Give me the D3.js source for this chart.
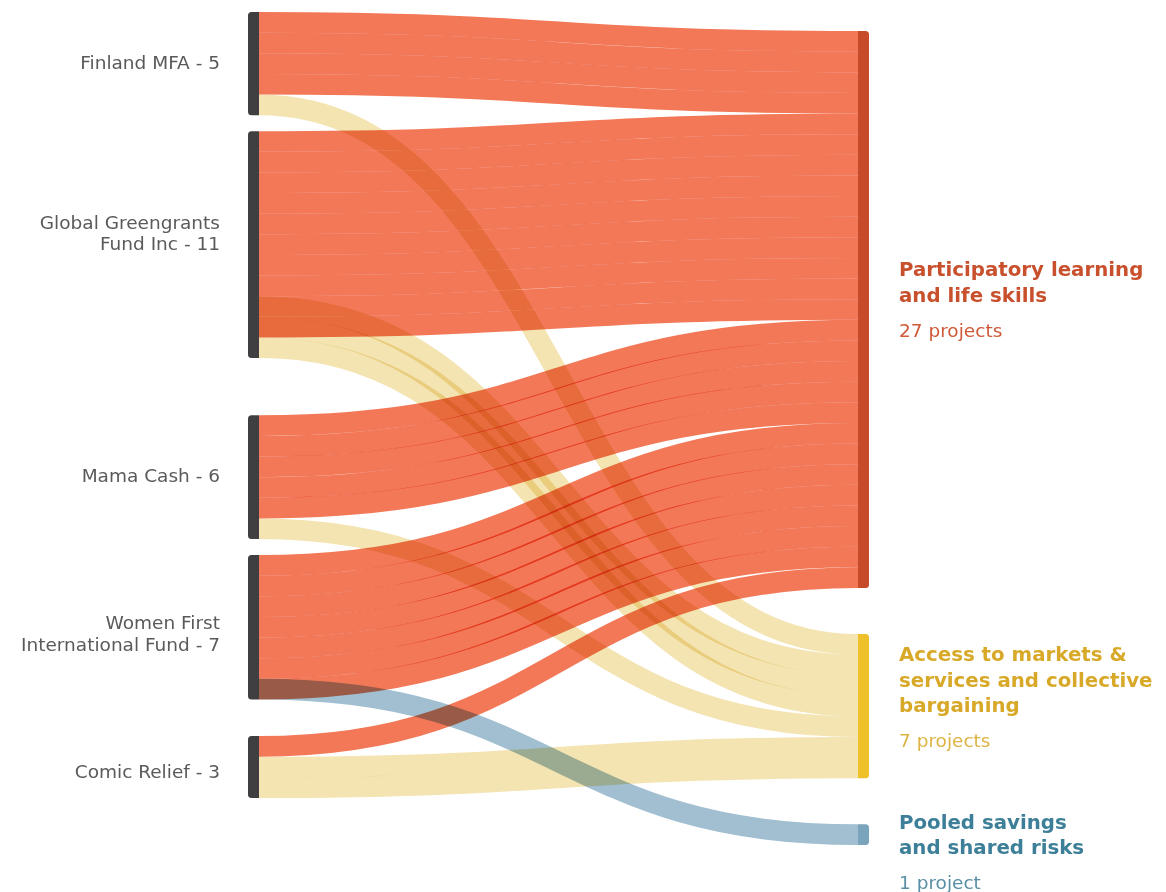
<!DOCTYPE html>
<html>
<head>
<meta charset="utf-8">
<script src="https://cdn.jsdelivr.net/npm/d3@7/dist/d3.min.js"></script>
<style>
  html, body { margin: 0; padding: 0; background: #fff; }
  svg { display: block; }
  .links { isolation: isolate; }
  .links path { mix-blend-mode: multiply; fill: none; }
</style>
</head>
<body>
<svg id="chart" width="1166" height="892"></svg>
<script>
// ---------------- DATA ----------------
const funders = ["Finland MFA", "Global Greengrants Fund Inc", "Mama Cash", "Women First International Fund", "Comic Relief"];
const funderProjects = [5, 11, 6, 7, 3];
const funderLabelLines = [
  ["Finland MFA - 5"],
  ["Global Greengrants", "Fund Inc - 11"],
  ["Mama Cash - 6"],
  ["Women First", "International Fund - 7"],
  ["Comic Relief - 3"]
];

const themes = ["Participatory learning and life skills", "Access to markets & services and collective bargaining", "Pooled savings and shared risks"];
const themeProjects = [27, 7, 1];
const themeTitleLines = [
  ["Participatory learning", "and life skills"],
  ["Access to markets &", "services and collective", "bargaining"],
  ["Pooled savings", "and shared risks"]
];
const themeCountLabels = ["27 projects", "7 projects", "1 project"];

// projects per funder going to each theme (same order as funders)
const participatoryFlows = [4, 10, 5, 7, 1];
const accessFlows        = [1, 3, 1, 0, 2];
const pooledFlows        = [0, 0, 0, 1, 0];

// ---------------- STYLE / LAYOUT ----------------
const themeLinkColors  = ["#f27857", "#f4e4b2", "#a1bfd0"];
const themeNodeColors  = ["#c84b29", "#eec02a", "#7aa4bc"];
const themeTitleColors = ["#c8502c", "#d8a928", "#3d7f98"];
const themeCountColors = ["#cf5a38", "#ddb444", "#5b8fa6"];
const funderNodeColor = "#3f3f41";
const funderLabelColor = "#5a5a5a";

const leftX0 = 248, nodeW = 11, rightX0 = 858;
const leftTop = 12, leftBottom = 798, leftPad = 16;
const rightTop = 31, rightPad = 46;
const funderLabelNudge = [-1, -12, -2, 6, 4];
const themeLabelNudge = [-10, -9, 17];

const flowsByTheme = [participatoryFlows, accessFlows, pooledFlows];

// slot size on left = total links out of each funder
const funderSlots = funders.map((f, i) => d3.sum(flowsByTheme, fl => fl[i]));
const totalUnits = d3.sum(funderSlots);
const k = (leftBottom - leftTop - leftPad * (funders.length - 1)) / totalUnits;
const u = d3.scaleLinear().domain([0, 1]).range([0, k]);

// funder nodes
let cy = leftTop;
const funderNodes = funders.map((name, i) => {
  const n = { name, i, y0: cy, y1: cy + u(funderProjects[i]) };
  cy += u(funderSlots[i]) + leftPad;
  return n;
});
// theme nodes
cy = rightTop;
const themeNodes = themes.map((name, j) => {
  const n = { name, j, y0: cy, y1: cy + u(themeProjects[j]) };
  cy = n.y1 + rightPad;
  return n;
});

// source offsets: first theme from top, others stacked from bottom
const srcOffset = {}; // key i-j -> units
funders.forEach((f, i) => {
  const used = flowsByTheme.map((fl, j) => ({ j, v: fl[i] })).filter(d => d.v > 0);
  if (!used.length) return;
  srcOffset[i + "-" + used[0].j] = 0;
  let bottom = funderProjects[i];
  for (let m = used.length - 1; m >= 1; m--) {
    bottom -= used[m].v;
    srcOffset[i + "-" + used[m].j] = bottom;
  }
});
// target offsets: stacked in funder order
const tgtOffset = {};
themes.forEach((t, j) => {
  let acc = 0;
  funders.forEach((f, i) => {
    if (flowsByTheme[j][i] > 0) { tgtOffset[i + "-" + j] = acc; acc += flowsByTheme[j][i]; }
  });
});

// one link per project
const unitLinks = [];
themes.forEach((t, j) => {
  funders.forEach((f, i) => {
    const v = flowsByTheme[j][i];
    for (let q = 0; q < v; q++) {
      unitLinks.push({
        j,
        source: [leftX0 + nodeW, funderNodes[i].y0 + u(srcOffset[i + "-" + j] + q + 0.5)],
        target: [rightX0, themeNodes[j].y0 + u(tgtOffset[i + "-" + j] + q + 0.5)]
      });
    }
  });
});

const svg = d3.select("#chart");
const linkGen = d3.linkHorizontal().x(d => d[0]).y(d => d[1]);

svg.append("g").attr("class", "links")
  .selectAll("path").data(unitLinks).join("path")
  .attr("d", d => linkGen(d))
  .attr("stroke", d => themeLinkColors[d.j])
  .attr("stroke-width", k);

function roundedSide(x, y0, w, h, r, side) {
  // rounded corners on one side only
  if (side === "left") {
    return `M${x + w},${y0} L${x + r},${y0} Q${x},${y0} ${x},${y0 + r} L${x},${y0 + h - r} Q${x},${y0 + h} ${x + r},${y0 + h} L${x + w},${y0 + h} Z`;
  }
  return `M${x},${y0} L${x + w - r},${y0} Q${x + w},${y0} ${x + w},${y0 + r} L${x + w},${y0 + h - r} Q${x + w},${y0 + h} ${x + w - r},${y0 + h} L${x},${y0 + h} Z`;
}

svg.append("g").selectAll("path").data(funderNodes).join("path")
  .attr("d", d => roundedSide(leftX0, d.y0, nodeW, d.y1 - d.y0, 3.5, "left"))
  .attr("fill", funderNodeColor);

svg.append("g").selectAll("path").data(themeNodes).join("path")
  .attr("d", d => roundedSide(rightX0, d.y0, nodeW, d.y1 - d.y0, 3.5, "right"))
  .attr("fill", d => themeNodeColors[d.j]);

// funder labels
const fontFam = "'DejaVu Sans', 'Noto Sans', sans-serif";
const leftLH = 21.6;
funderNodes.forEach((n, i) => {
  const lines = funderLabelLines[i];
  const capH = 13.5;
  const blockH = capH + leftLH * (lines.length - 1);
  const center = (n.y0 + n.y1) / 2 + funderLabelNudge[i];
  const firstBase = center - blockH / 2 + capH;
  const t = svg.append("text")
    .attr("x", 220).attr("text-anchor", "end")
    .attr("font-family", fontFam).attr("font-size", 18.5)
    .attr("fill", funderLabelColor);
  lines.forEach((ln, m) => t.append("tspan").attr("x", 220).attr("y", firstBase + m * leftLH).text(ln));
});

// theme labels
const titleLH = 25.5, countGap = 35;
themeNodes.forEach((n, j) => {
  const lines = themeTitleLines[j];
  const capH = 14.5;
  const blockH = capH + titleLH * (lines.length - 1) + countGap;
  const center = (n.y0 + n.y1) / 2 + themeLabelNudge[j];
  const firstBase = center - blockH / 2 + capH;
  const g = svg.append("g");
  const t = g.append("text")
    .attr("font-family", fontFam).attr("font-size", 19.8).attr("font-weight", "bold")
    .attr("fill", themeTitleColors[j]);
  lines.forEach((ln, m) => t.append("tspan").attr("x", 899).attr("y", firstBase + m * titleLH).text(ln));
  g.append("text")
    .attr("x", 899).attr("y", firstBase + titleLH * (lines.length - 1) + countGap)
    .attr("font-family", fontFam).attr("font-size", 18.5)
    .attr("fill", themeCountColors[j])
    .text(themeCountLabels[j]);
});
</script>
</body>
</html>
